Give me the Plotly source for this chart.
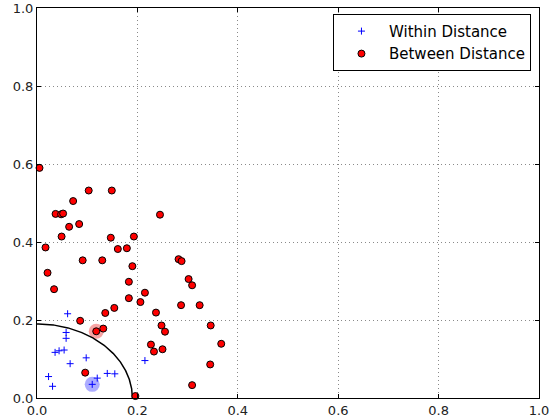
import numpy as np
import plotly.graph_objects as go

# Between Distance (red circles)
between_x = [0.005, 0.103, 0.149, 0.072, 0.037, 0.048, 0.052, 0.245, 0.084, 0.064,
             0.049, 0.147, 0.193, 0.017, 0.161, 0.179, 0.091, 0.130, 0.190, 0.282,
             0.288, 0.021, 0.183, 0.302, 0.309, 0.034, 0.215, 0.183, 0.206, 0.287,
             0.324, 0.154, 0.136, 0.237, 0.086, 0.248, 0.346, 0.132, 0.118, 0.255,
             0.227, 0.367, 0.250, 0.233, 0.345, 0.096, 0.309, 0.196]
between_y = [0.590, 0.532, 0.532, 0.505, 0.472, 0.471, 0.473, 0.470, 0.446, 0.439,
             0.414, 0.411, 0.414, 0.386, 0.382, 0.384, 0.353, 0.353, 0.338, 0.356,
             0.351, 0.321, 0.298, 0.305, 0.289, 0.279, 0.270, 0.256, 0.246, 0.238,
             0.238, 0.231, 0.218, 0.219, 0.198, 0.186, 0.186, 0.178, 0.171, 0.170,
             0.137, 0.139, 0.125, 0.119, 0.086, 0.065, 0.033, 0.005]

# Within Distance (blue plus)
within_x = [0.061, 0.058, 0.058, 0.036, 0.044, 0.054, 0.098, 0.066, 0.023, 0.031,
            0.120, 0.140, 0.155, 0.110, 0.215]
within_y = [0.216, 0.168, 0.153, 0.117, 0.121, 0.123, 0.103, 0.088, 0.055, 0.030,
            0.051, 0.063, 0.062, 0.035, 0.096]

# Highlighted query points
hl_red = (0.118, 0.171)
hl_blue = (0.110, 0.035)

radius = 0.19

theta = np.linspace(0, np.pi / 2, 200)
arc_x = radius * np.cos(theta)
arc_y = radius * np.sin(theta)

fig = go.Figure()

fig.add_trace(go.Scatter(x=[hl_red[0]], y=[hl_red[1]], mode="markers",
                         marker=dict(size=15, color="rgba(240,90,90,0.55)", line=dict(width=0)),
                         showlegend=False, hoverinfo="skip", cliponaxis=False))
fig.add_trace(go.Scatter(x=[hl_blue[0]], y=[hl_blue[1]], mode="markers",
                         marker=dict(size=15, color="rgba(90,90,255,0.5)", line=dict(width=0)),
                         showlegend=False, hoverinfo="skip"))

fig.add_trace(go.Scatter(x=arc_x, y=arc_y, mode="lines",
                         line=dict(color="black", width=1.5),
                         showlegend=False, hoverinfo="skip"))

fig.add_trace(go.Scatter(x=within_x, y=within_y, mode="markers", name="Within Distance",
                         marker=dict(symbol="cross-thin", size=5, color="blue",
                                     line=dict(color="blue", width=1))))
fig.add_trace(go.Scatter(x=between_x, y=between_y, mode="markers", name="Between Distance",
                         cliponaxis=False,
                         marker=dict(symbol="circle", size=7, color="red",
                                     line=dict(color="black", width=1))))

axis_common = dict(
    range=[0, 1], dtick=0.2, tickformat=".1f",
    showline=True, linecolor="black", linewidth=1, mirror="ticks",
    ticks="inside", ticklen=4, tickcolor="black",
    showgrid=True, gridcolor="#8a8a8a", griddash="1px,3px", gridwidth=1,
    zeroline=False, automargin=False,
    tickfont=dict(family="DejaVu Sans", size=13, color="#222222"),
)

fig.update_layout(
    width=551, height=417,
    margin=dict(l=37, r=12, t=8, b=19),
    plot_bgcolor="white", paper_bgcolor="white",
    xaxis=dict(**axis_common),
    yaxis=dict(**axis_common),
    legend=dict(x=0.984, y=0.985, xanchor="right", yanchor="top",
                bordercolor="black", borderwidth=1, bgcolor="white",
                font=dict(family="DejaVu Sans", size=15, color="black"),
                itemwidth=45, tracegroupgap=0),
    font=dict(family="DejaVu Sans"),
)

fig.write_html("out.html",
               config={"displayModeBar": False},
               post_script="document.body.style.margin='0px';document.body.style.overflow='hidden';")
